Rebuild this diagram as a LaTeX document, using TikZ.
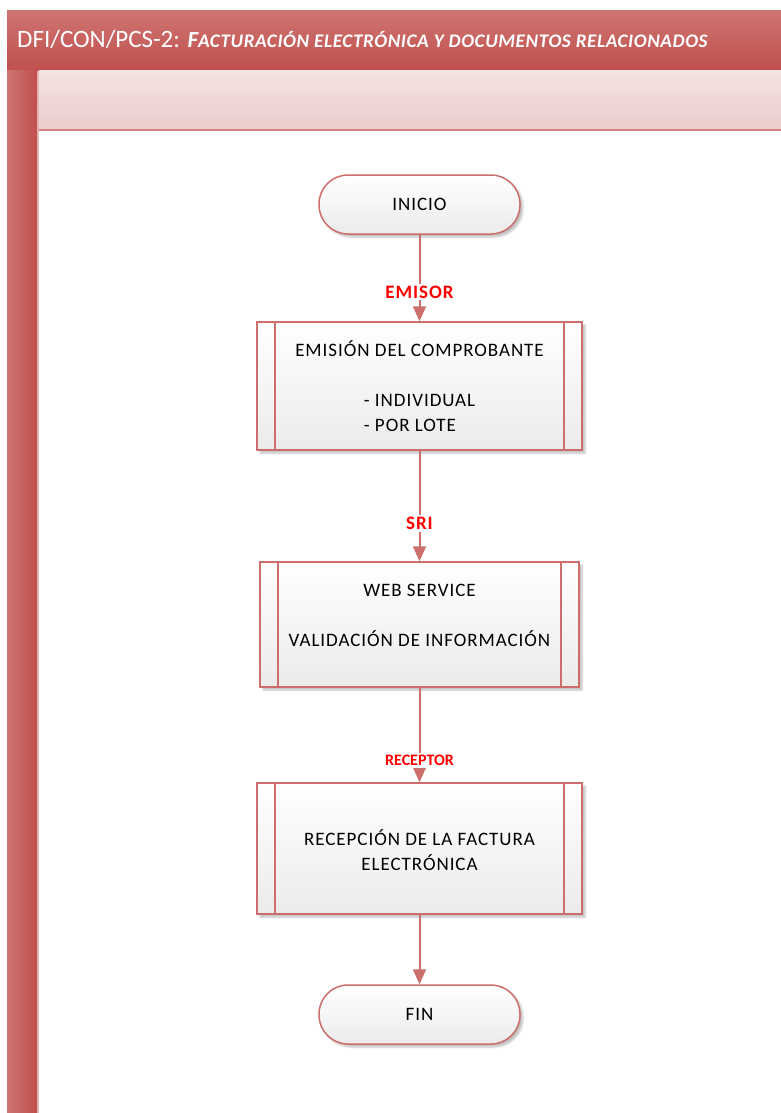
\documentclass[tikz,border=0pt]{standalone}
\usepackage{fontspec}
\setmainfont{Carlito}
\usetikzlibrary{arrows.meta,shadows.blur}
\definecolor{barA}{HTML}{CE7472}
\definecolor{barB}{HTML}{C0504D}
\definecolor{stripe}{HTML}{E4B4B3}
\definecolor{pinkA}{HTML}{F3E3E2}
\definecolor{pinkB}{HTML}{EBCCCB}
\definecolor{pinkLine}{HTML}{D4817F}
\definecolor{edge}{HTML}{CB6E6C}
\definecolor{fillB}{HTML}{EBEBEB}
\definecolor{lblred}{HTML}{FF0000}
\tikzset{
  shadowed/.style={blur shadow={shadow blur steps=6, shadow xshift=3pt, shadow yshift=-3pt, shadow opacity=25}},
  term/.style={shadowed, draw=edge, line width=1.5pt, top color=white, bottom color=fillB,
    rounded corners=29pt, minimum width=201pt, minimum height=59pt, inner sep=0pt,
    font=\fontsize{19}{24.5}\selectfont\addfontfeatures{LetterSpace=5}},
  proc/.style={shadowed, draw=edge, line width=1.5pt, top color=white, bottom color=fillB,
    inner sep=0pt, align=center,
    font=\fontsize{19}{25}\selectfont\addfontfeatures{LetterSpace=5},
    path picture={
      \draw[edge, line width=1.5pt] ([xshift=18pt]path picture bounding box.north west) -- ([xshift=18pt]path picture bounding box.south west);
      \draw[edge, line width=1.5pt] ([xshift=-18pt]path picture bounding box.north east) -- ([xshift=-18pt]path picture bounding box.south east);
    }},
  conn/.style={draw=edge, line width=2pt, -{Triangle[length=15pt, width=13pt]}},
  lbl/.style={fill=white, text=lblred, inner sep=2pt,
    font=\bfseries\fontsize{19}{22}\selectfont\addfontfeatures{LetterSpace=5}},
}
\begin{document}
\begin{tikzpicture}[x=1pt, y=-1pt]
\useasboundingbox (0,0) rectangle (781,1113);
% title bar
\shade[top color=barA, bottom color=barB] (7,11) rectangle (781,71);
% left band
\shade[left color=barA, right color=barB] (7,71) rectangle (37,1113);
\fill[stripe] (37,71) rectangle (39,1113);
% sub band
\shade[top color=pinkA, bottom color=pinkB] (39,71) rectangle (781,130);
\draw[pinkLine, line width=1.5pt] (39,130) -- (781,130);
% title
\node[anchor=base west, inner sep=0pt, text=white, font=\fontsize{25}{28}\selectfont] (title) at (17,48)
  {DFI/CON/PCS-2: {\bfseries\itshape\addfontfeatures{LetterSpace=3}{\fontsize{23}{26}\selectfont F}{\fontsize{19.2}{22}\selectfont ACTURACIÓN ELECTRÓNICA Y DOCUMENTOS RELACIONADOS}}};
% nodes
\node[term] (inicio) at (419.5,204.5) {INICIO};
\node[proc, text depth=25pt, minimum width=325pt, minimum height=128pt] (emision) at (419.5,386)
  {EMISIÓN DEL COMPROBANTE\\ \mbox{}\\ \begin{tabular}[t]{@{}l@{}}- INDIVIDUAL\\- POR LOTE\end{tabular}};
\node[proc, text depth=18pt, minimum width=319pt, minimum height=125pt] (web) at (419.5,624.5)
  {WEB SERVICE\\ \mbox{}\\ VALIDACIÓN DE INFORMACIÓN};
\node[proc, text height=44.5pt, minimum width=325pt, minimum height=131pt] (recep) at (419.5,848.5)
  {RECEPCIÓN DE LA FACTURA\\ ELECTRÓNICA};
\node[term] (fin) at (419.5,1014.5) {FIN};
% connectors
\draw[conn] (inicio) -- node[lbl, pos=0.66] {EMISOR} (emision);
\draw[conn] (emision) -- node[lbl, pos=0.66] {SRI} (web);
\draw[conn] (web) -- node[lbl, pos=0.77, font=\bfseries\fontsize{16}{19}\selectfont] {RECEPTOR} (recep);
\draw[conn] (recep) -- (fin);
\end{tikzpicture}
\end{document}
